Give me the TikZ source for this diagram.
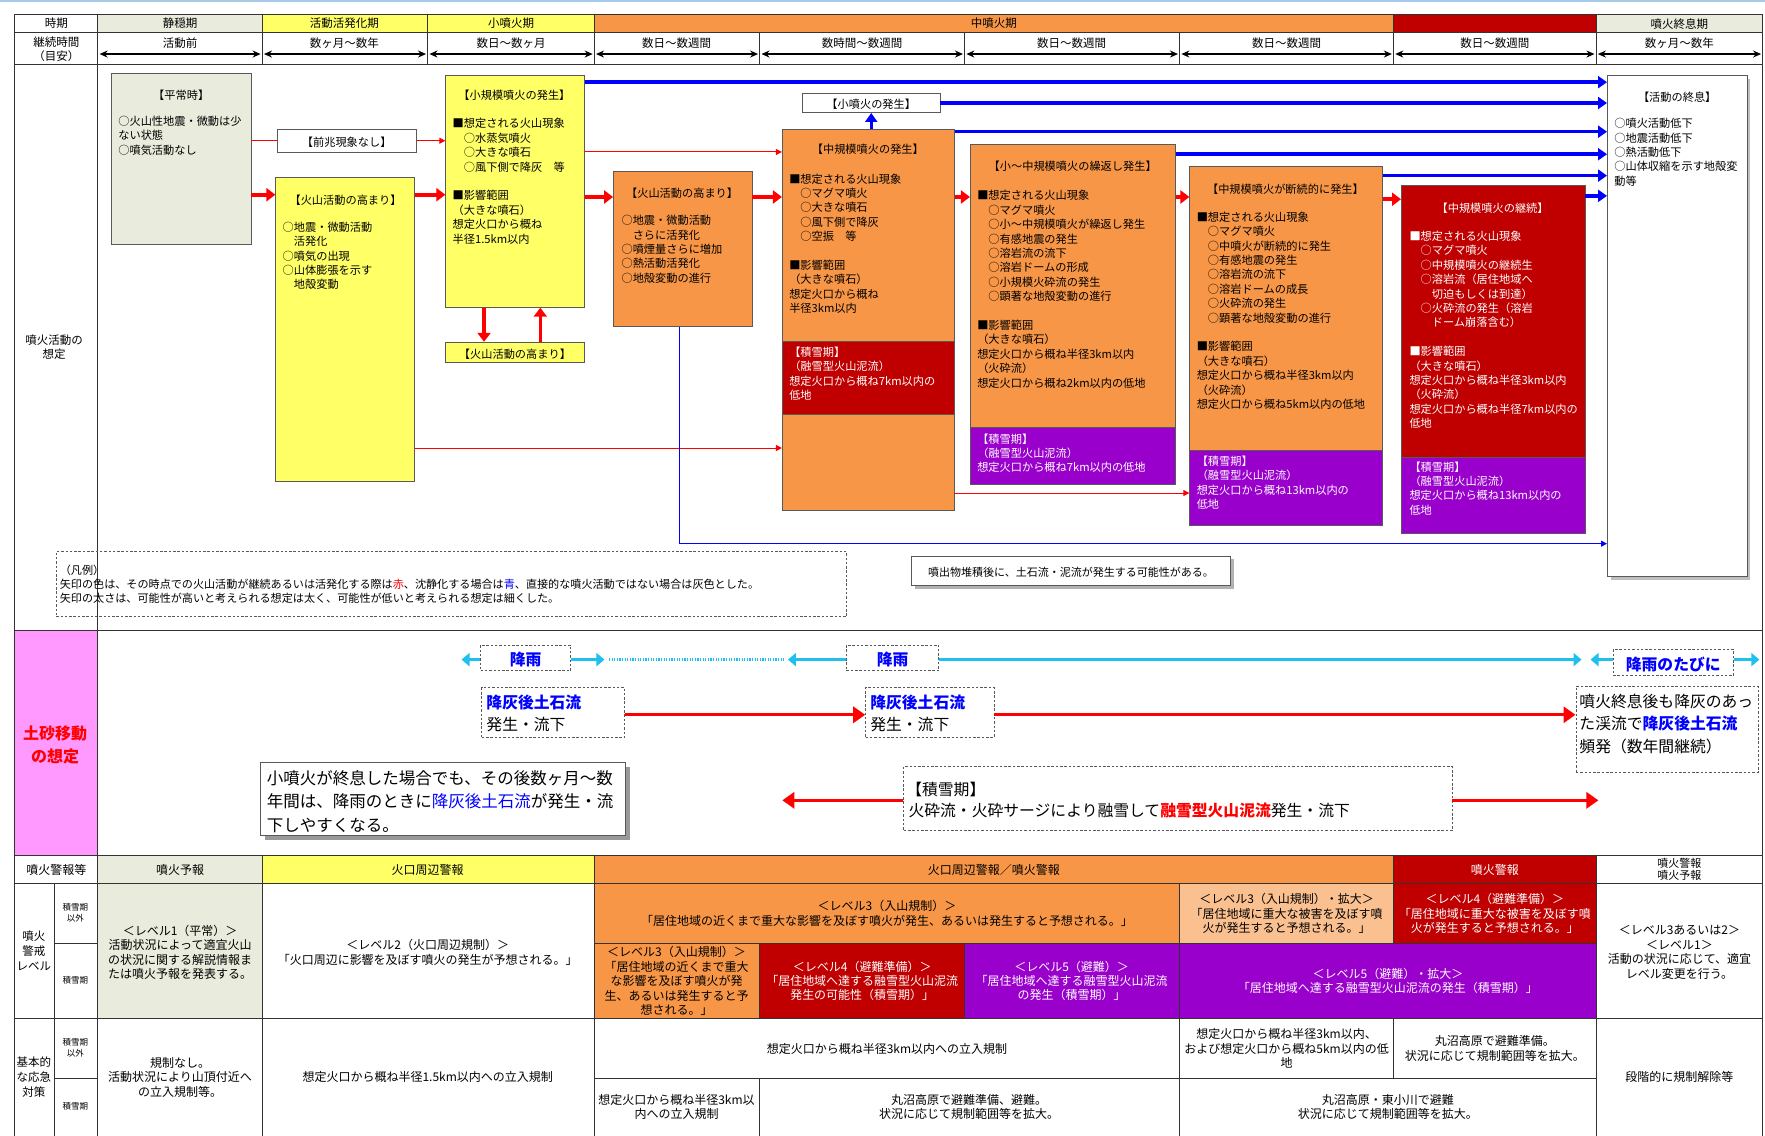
\documentclass[tikz,border=0pt]{standalone}
\usepackage{fontspec}
\setmainfont{Noto Sans CJK JP}
\usetikzlibrary{arrows.meta,fit}
\definecolor{calm}{HTML}{E9ECDC}
\definecolor{ylw}{HTML}{FFFF66}
\definecolor{org}{HTML}{F79646}
\definecolor{dred}{HTML}{C00000}
\definecolor{purp}{HTML}{9900CC}
\definecolor{lorg}{HTML}{FAC090}
\definecolor{pinkc}{HTML}{FF99FF}
\definecolor{cyanc}{HTML}{1FC0F0}
\definecolor{redc}{HTML}{FF0000}
\definecolor{bluec}{HTML}{0000FF}
\definecolor{topline}{HTML}{A6CBEA}
\newcommand\FsBox{\fontsize{11.2pt}{14.4pt}\selectfont}
\newcommand\FsTab{\fontsize{12pt}{14.4pt}\selectfont}
\newcommand\FsHead{\fontsize{11.5pt}{14pt}\selectfont}
\newcommand\FsLeg{\fontsize{11.1pt}{14pt}\selectfont}
\newcommand\FsBig{\fontsize{15.8pt}{22.5pt}\selectfont}
\newcommand\FsNote{\fontsize{16.5pt}{23.6pt}\selectfont}
\newcommand\FsTiny{\fontsize{8.5pt}{10.5pt}\selectfont}
\tikzset{
  rl/.style={draw=black!80, line width=0.9pt},
  fbox/.style={draw=black!65, line width=0.8pt, inner sep=0pt},
  dbox/.style={draw=black!65, line width=0.8pt, dash pattern=on 2.5pt off 1.8pt, inner sep=0pt},
  bt/.style={anchor=north west, inner sep=0pt, align=left, font=\FsBox},
  ct/.style={inner sep=0pt, align=center, font=\FsBox},
  hd/.style={inner sep=0pt, align=center, font=\FsHead},
  tc/.style={inner sep=0pt, align=center, font=\FsTab},
  lg/.style={anchor=north west, inner sep=0pt, align=left, font=\FsLeg},
  bg/.style={anchor=west, inner sep=0pt, font=\FsBig},
  raintxt/.style={inner sep=0pt, text=bluec, font=\FsBig\bfseries},
  redfat/.style={draw=redc, line width=4pt, -{Triangle[length=9pt,width=13pt]}},
  redline/.style={draw=redc, line width=1pt},
  redthin/.style={draw=redc, line width=1pt, -{Triangle[length=6pt,width=6pt]}},
  bluefat/.style={draw=bluec, line width=3.5pt, -{Triangle[length=9pt,width=12pt]}},
  bluethin/.style={draw=bluec, line width=1pt, -{Triangle[length=6pt,width=6pt]}},
  dur/.style={draw=black, line width=1.8pt, {Stealth[length=8pt,width=7pt]}-{Stealth[length=8pt,width=7pt]}},
  rainarr/.style={draw=cyanc, line width=3pt, -{Triangle[length=8pt,width=13pt]}},
  flowarr/.style={draw=redc, line width=3.4pt, -{Triangle[length=12pt,width=16pt]}},
}
\begin{document}
\begin{tikzpicture}[x=1.1257pt, y=-1.1257pt]
\useasboundingbox (0,0) rectangle (1568,1009);
\fill[white] (0,0) rectangle (1568,1009);
\draw[topline, line width=2.2pt] (0,1) -- (1568,1);

% ---------- header fills ----------
\fill[calm] (87,13) rectangle (233,29);
\fill[ylw] (233,13) rectangle (528,29);
\fill[org] (528,13) rectangle (1238,29);
\fill[dred] (1238,13) rectangle (1418,29);
\fill[calm] (1418,13) rectangle (1566,29);

% ---------- lower table fills ----------
\fill[pinkc] (13,560) rectangle (87,760);
\fill[calm] (87,760) rectangle (233,785);
\fill[ylw] (233,760) rectangle (528,785);
\fill[org] (528,760) rectangle (1238,785);
\fill[dred] (1238,760) rectangle (1418,785);
\fill[calm] (87,785) rectangle (233,905);
\fill[org] (528,785) rectangle (1048,838);
\fill[lorg] (1048,785) rectangle (1238,838);
\fill[dred] (1238,785) rectangle (1418,838);
\fill[org] (528,838) rectangle (675,905);
\fill[dred] (675,838) rectangle (857,905);
\fill[purp] (857,838) rectangle (1048,905);
\fill[purp] (1048,838) rectangle (1418,905);

% ---------- table rules ----------
\draw[rl] (13,1009) -- (13,13) -- (1566,13) -- (1566,1009);
\foreach \y in {29,57,560,760,785,905} \draw[rl] (13,\y) -- (1566,\y);
\foreach \y in {838,958} {\draw[rl] (48,\y) -- (87,\y); \draw[rl] (528,\y) -- (1418,\y);}
\draw[rl] (87,13) -- (87,1009);
\draw[rl] (48,785) -- (48,1009);
\foreach \x in {233,528,1418} {\draw[rl] (\x,13) -- (\x,57); \draw[rl] (\x,760) -- (\x,1009);}
\draw[rl] (380,13) -- (380,57);
\draw[rl] (1238,13) -- (1238,57);
\draw[rl] (1238,760) -- (1238,838);
\draw[rl] (1238,905) -- (1238,958);
\foreach \x in {675,857,1048} \draw[rl] (\x,29) -- (\x,57);
\draw[rl] (675,838) -- (675,905);
\draw[rl] (857,838) -- (857,905);
\draw[rl] (675,958) -- (675,1009);
\draw[rl] (1048,785) -- (1048,1009);

% ---------- header texts ----------
\node[hd] (p0) at (50,21) {時期};
\node[hd] (p1) at (160,21) {静穏期};
\node[hd] (p2) at (306,21) {活動活発化期};
\node[hd] (p3) at (454,21) {小噴火期};
\node[hd] (p4) at (883,21) {中噴火期};
\node[hd] (p5) at (1492,21) {噴火終息期};
\node[hd] (d0) at (50,43.5) {継続時間\\（目安）};
\foreach \x/\t [count=\i] in {160/活動前,306/数ヶ月〜数年,454/数日〜数ヶ月,601/数日〜数週間,766/数時間〜数週間,952/数日〜数週間,1143/数日〜数週間,1328/数日〜数週間,1492/数ヶ月〜数年}
  \node[hd] (d\i) at (\x,38) {\t};
\foreach \a/\b in {87/233,233/380,380/528,528/675,675/857,857/1048,1048/1238,1238/1418,1418/1566}
  \draw[dur] (\a+1.5,48) -- (\b-1.5,48);

% ---------- eruption scenario ----------
\node[hd] (s1) at (48,308) {噴火活動の\\想定};

\node[fbox, fill=calm, fit={(99,65) (223,217)}] (heijo) {};
\node[ct] (heijoT) at (161,85) {【平常時】};
\node[bt] (heijoB) at (105,103) {○火山性地震・微動は少\\ない状態\\○噴気活動なし};

\node[fbox, fill=white, fit={(246,115) (370,135)}] (zencho) {};
\node[ct] (zenchoT) at ([yshift=-1.5pt]zencho.center) {【前兆現象なし】};

\node[fbox, fill=ylw, fit={(245,158) (368,428)}] (kouyou) {};
\node[ct] (kouyouT) at (307,178) {【火山活動の高まり】};
\node[bt] (kouyouB) at (251,197) {○地震・微動活動\\　活発化\\○噴気の出現\\○山体膨張を示す\\　地殻変動};

\node[fbox, fill=ylw, fit={(396,67) (519,273)}] (shokibo) {};
\node[ct] (shokiboT) at (457,85) {【小規模噴火の発生】};
\node[bt] (shokiboB) at (402,105) {■想定される火山現象\\　○水蒸気噴火\\　○大きな噴石\\　○風下側で降灰　等\\[14.4pt]■影響範囲\\（大きな噴石）\\想定火口から概ね\\半径1.5km以内};

\node[fbox, fill=ylw, fit={(396,304) (519,322)}] (kouyouS) {};
\node[ct] (kouyouST) at ([yshift=-1.5pt]kouyouS.center) {【火山活動の高まり】};

\node[fbox, fill=org, fit={(545,152) (668,290)}] (kouyou2) {};
\node[ct] (kouyou2T) at (606,172) {【火山活動の高まり】};
\node[bt] (kouyou2B) at (552,191) {○地震・微動活動\\　さらに活発化\\○噴煙量さらに増加\\○熱活動活発化\\○地殻変動の進行};

\node[fbox, fill=org, fit={(695,115) (848,453)}] (chuki) {};
\node[fbox, fill=dred, fit={(695,303) (848,368)}] (chukiS) {};
\node[ct] (chukiT) at (771,133) {【中規模噴火の発生】};
\node[bt] (chukiB) at (701,154) {■想定される火山現象\\　○マグマ噴火\\　○大きな噴石\\　○風下側で降灰\\　○空振　等\\[14.4pt]■影響範囲\\（大きな噴石）\\想定火口から概ね\\半径3km以内};
\node[bt, text=white] (chukiSB) at (701,308) {【積雪期】\\（融雪型火山泥流）\\想定火口から概ね7km以内の\\低地};

\node[fbox, fill=white, fit={(713,83) (835,100)}] (shofun) {};
\node[ct] (shofunT) at ([yshift=-1.5pt]shofun.center) {【小噴火の発生】};

\node[fbox, fill=org, fit={(862,128) (1044,380)}] (kuri) {};
\node[fbox, fill=purp, fit={(862,380) (1044,430)}] (kuriS) {};
\node[ct] (kuriT) at (953,148) {【小〜中規模噴火の繰返し発生】};
\node[bt] (kuriB) at (868,169) {■想定される火山現象\\　○マグマ噴火\\　○小〜中規模噴火が繰返し発生\\　○有感地震の発生\\　○溶岩流の流下\\　○溶岩ドームの形成\\　○小規模火砕流の発生\\　○顕著な地殻変動の進行\\[14.4pt]■影響範囲\\（大きな噴石）\\想定火口から概ね半径3km以内\\（火砕流）\\想定火口から概ね2km以内の低地};
\node[bt, text=white] (kuriSB) at (868,385) {【積雪期】\\（融雪型火山泥流）\\想定火口から概ね7km以内の低地};

\node[fbox, fill=org, fit={(1057,148) (1228,400)}] (danzoku) {};
\node[fbox, fill=purp, fit={(1057,400) (1228,467)}] (danzokuS) {};
\node[ct] (danzokuT) at (1142,168) {【中規模噴火が断続的に発生】};
\node[bt] (danzokuB) at (1063,188) {■想定される火山現象\\　○マグマ噴火\\　○中噴火が断続的に発生\\　○有感地震の発生\\　○溶岩流の流下\\　○溶岩ドームの成長\\　○火砕流の発生\\　○顕著な地殻変動の進行\\[14.4pt]■影響範囲\\（大きな噴石）\\想定火口から概ね半径3km以内\\（火砕流）\\想定火口から概ね5km以内の低地};
\node[bt, text=white] (danzokuSB) at (1063,405) {【積雪期】\\（融雪型火山泥流）\\想定火口から概ね13km以内の\\低地};

\node[fbox, fill=dred, fit={(1245,165) (1408,406)}] (keizoku) {};
\node[fbox, fill=purp, fit={(1245,406) (1408,474)}] (keizokuS) {};
\node[ct, text=white] (keizokuT) at (1326,185) {【中規模噴火の継続】};
\node[bt, text=white] (keizokuB) at (1252,205) {■想定される火山現象\\　○マグマ噴火\\　○中規模噴火の継続生\\　○溶岩流（居住地域へ\\　　切迫もしくは到達）\\　○火砕流の発生（溶岩\\　　ドーム崩落含む）\\[14.4pt]■影響範囲\\（大きな噴石）\\想定火口から概ね半径3km以内\\（火砕流）\\想定火口から概ね半径7km以内の\\低地};
\node[bt, text=white] (keizokuSB) at (1252,410) {【積雪期】\\（融雪型火山泥流）\\想定火口から概ね13km以内の\\低地};

\fill[black!25] (1431,70) rectangle (1555,515);
\node[fbox, fill=white, fit={(1428,67) (1552,512)}] (shuusoku) {};
\node[ct] (shuusokuT) at (1490,86) {【活動の終息】};
\node[bt] (shuusokuB) at (1434,105) {○噴火活動低下\\○地震活動低下\\○熱活動低下\\○山体収縮を示す地殻変\\動等};

% connectors: activity rising (red) / calming (blue)
\draw[redline] (heijo.east |- zencho.west) -- (zencho.west);
\draw[redthin] (zencho.east) -- (shokibo.west |- zencho.east);
\draw[redfat] (heijo.east |- 0,173) -- (kouyou.west |- 0,173);
\draw[redfat] (kouyou.east |- 0,173) -- (shokibo.west |- 0,173);
\draw[redfat] (shokibo.east |- 0,175) -- (kouyou2.west |- 0,175);
\draw[redfat] (kouyou2.east |- 0,175) -- (chuki.west |- 0,175);
\draw[redfat] (chuki.east |- 0,175) -- (kuri.west |- 0,175);
\draw[redfat] (kuri.east |- 0,175) -- (danzoku.west |- 0,175);
\draw[redfat] (danzoku.east |- 0,177) -- (keizoku.west |- 0,177);
\draw[redfat, line width=3.5pt] (shokibo.south -| 430,0) -- (kouyouS.north -| 430,0);
\draw[redfat, line width=3.5pt] (kouyouS.north -| 480,0) -- (shokibo.south -| 480,0);
\draw[redthin] (shokibo.east |- 0,135) -- (chuki.west |- 0,135);
\draw[redthin] (kouyou.east |- 0,398) -- (chuki.west |- 0,398);
\draw[redthin] (chuki.east |- 0,438) -- (danzokuS.west |- 0,438);

\draw[bluefat] (shokibo.east |- 0,73) -- (shuusoku.west |- 0,73);
\draw[bluefat] (shofun.east) -- (shuusoku.west |- shofun.east);
\draw[bluefat] (chuki.east |- 0,117) -- (shuusoku.west |- 0,117);
\draw[bluefat] (kuri.east |- 0,137) -- (shuusoku.west |- 0,137);
\draw[bluefat] (danzoku.east |- 0,156) -- (shuusoku.west |- 0,156);
\draw[bluefat] (keizoku.east |- 0,174) -- (shuusoku.west |- 0,174);
\draw[bluefat] (shofun.south |- chuki.north) -- (shofun.south);
\draw[bluethin] (kouyou2.south -| 604,0) -- (604,483) -- (shuusoku.west |- 0,483);

% legend and note
\node[dbox, fit={(50,490) (752,548)}] (legend) {};
\node[lg] (legendT) at (53,502) {（凡例）\\矢印の色は、その時点での火山活動が継続あるいは活発化する際は\textcolor{redc}{赤}、沈静化する場合は\textcolor{bluec}{青}、直接的な噴火活動ではない場合は灰色とした。\\矢印の太さは、可能性が高いと考えられる想定は太く、可能性が低いと考えられる想定は細くした。};
\fill[black!30] (813,497) rectangle (1096,523);
\node[fbox, fill=white, fit={(810,494) (1093,520)}] (note1) {};
\node[inner sep=0pt, font=\fontsize{11pt}{13pt}\selectfont] (note1T) at ([yshift=-1.5pt]note1.center) {噴出物堆積後に、土石流・泥流が発生する可能性がある。};

% ---------- sediment movement ----------
\node[align=center, inner sep=0pt, text=redc, font=\fontsize{16pt}{22.5pt}\selectfont\bfseries] (s2) at (49,662) {土砂移動\\の想定};

\node[dbox, fill=white, fit={(427,573) (507,596)}] (rain1) {};
\node[raintxt] (rain1T) at ([yshift=-2pt]rain1.center) {降雨};
\node[dbox, fill=white, fit={(752,573) (834,596)}] (rain2) {};
\node[raintxt] (rain2T) at ([yshift=-2pt]rain2.center) {降雨};
\node[dbox, fill=white, fit={(1433,577) (1540,600)}] (rain3) {};
\node[raintxt] (rain3T) at ([yshift=-2pt]rain3.center) {降雨のたびに};
\coordinate (cA) at (410,586);
\coordinate (cB) at (537,586);
\coordinate (cB2) at (541,586);
\coordinate (cC2) at (697,586);
\coordinate (cC) at (700,586);
\coordinate (cD) at (1405,586);
\coordinate (cE) at (1413,586);
\coordinate (cF) at (1563,586);
\draw[rainarr] (rain1.west |- cA) -- (cA);
\draw[rainarr] (rain1.east |- cB) -- (cB);
\draw[cyanc, line width=2.6pt, dash pattern=on 1.3pt off 1.3pt] (cB2) -- (cC2);
\draw[rainarr] (rain2.west |- cC) -- (cC);
\draw[rainarr] (rain2.east |- cD) -- (cD);
\draw[rainarr] (rain3.west |- cE) -- (cE);
\draw[rainarr] (rain3.east |- cF) -- (cF);

\node[dbox, fit={(428,611) (555,655)}] (deb1) {};
\node[bg, text=bluec, font=\FsBig\bfseries] (deb1a) at (432,624) {降灰後土石流};
\node[bg] (deb1b) at (432,644) {発生・流下};
\node[dbox, fit={(769,611) (883,655)}] (deb2) {};
\node[bg, text=bluec, font=\FsBig\bfseries] (deb2a) at (773,624) {降灰後土石流};
\node[bg] (deb2b) at (773,644) {発生・流下};
\node[dbox, fit={(1400,610) (1562,686)}] (deb3) {};
\node[bg] (deb3a) at (1403,623) {噴火終息後も降灰のあっ};
\node[bg] (deb3b) at (1403,643) {た渓流で\textcolor{bluec}{\bfseries 降灰後土石流}};
\node[bg] (deb3c) at (1403,663) {頻発（数年間継続）};
\draw[flowarr] (deb1.east |- 0,635) -- (deb2.west |- 0,635);
\draw[flowarr] (deb2.east |- 0,635) -- (deb3.west |- 0,635);

\node[dbox, fit={(803,681) (1290,738)}] (snow) {};
\node[bg] (snowa) at (805,701) {【積雪期】};
\node[bg] (snowb) at (807,720) {火砕流・火砕サージにより融雪して\textcolor{redc}{\bfseries 融雪型火山泥流}発生・流下};
\coordinate (sL) at (695,711);
\coordinate (sR) at (1420,711);
\draw[flowarr] (snow.west |- sL) -- (sL);
\draw[flowarr] (snow.east |- sR) -- (sR);

\fill[black!40] (235,681) rectangle (560,746);
\node[fbox, fill=white, fit={(231,677) (556,742)}] (note2) {};
\node[anchor=north west, inner sep=0pt, align=left, font=\FsNote] (note2t) at (237,684) {小噴火が終息した場合でも、その後数ヶ月〜数\\年間は、降雨のときに\textcolor{bluec}{降灰後土石流}が発生・流\\下しやすくなる。};

% ---------- alert levels and responses ----------
\node[tc] (w0) at (50,772.5) {噴火警報等};
\node[tc] (w1) at (160,772.5) {噴火予報};
\node[tc] (w2) at (380,772.5) {火口周辺警報};
\node[tc] (w3) at (883,772.5) {火口周辺警報／噴火警報};
\node[tc, text=white] (w4) at (1328,772.5) {噴火警報};
\node[hd, font=\fontsize{11pt}{12.5pt}\selectfont] (w5) at (1492,772.5) {噴火警報\\噴火予報};

\node[tc, font=\fontsize{11.5pt}{15pt}\selectfont] (lv0) at (30,845) {噴火\\警戒\\レベル};
\node[tc, font=\fontsize{11.5pt}{15pt}\selectfont] (rs0) at (30,957) {基本的\\な応急\\対策};
\node[tc, font=\FsTiny] (lvA) at (67,811) {積雪期\\以外};
\node[tc, font=\FsTiny] (lvB) at (67,871) {積雪期};
\node[tc, font=\FsTiny] (rsA) at (67,931) {積雪期\\以外};
\node[tc, font=\FsTiny] (rsB) at (67,983) {積雪期};

\node[tc] (lv1) at (160,846) {＜レベル1（平常）＞\\活動状況によって適宜火山\\の状況に関する解説情報ま\\たは噴火予報を発表する。};
\node[tc] (lv2) at (380,846) {＜レベル2（火口周辺規制）＞\\「火口周辺に影響を及ぼす噴火の発生が予想される。」};
\node[tc] (lv3) at (788,811.5) {＜レベル3（入山規制）＞\\「居住地域の近くまで重大な影響を及ぼす噴火が発生、あるいは発生すると予想される。」};
\node[tc] (lv3x) at (1143,811.5) {＜レベル3（入山規制）・拡大＞\\「居住地域に重大な被害を及ぼす噴\\火が発生すると予想される。」};
\node[tc, text=white] (lv4) at (1328,811.5) {＜レベル4（避難準備）＞\\「居住地域に重大な被害を及ぼす噴\\火が発生すると予想される。」};
\node[tc] (lvE) at (1492,846) {＜レベル3あるいは2＞\\＜レベル1＞\\活動の状況に応じて、適宜\\レベル変更を行う。};
\node[tc] (lv3s) at (601,871.5) {＜レベル3（入山規制）＞\\「居住地域の近くまで重大\\な影響を及ぼす噴火が発\\生、あるいは発生すると予\\想される。」};
\node[tc, text=white] (lv4s) at (766,871.5) {＜レベル4（避難準備）＞\\「居住地域へ達する融雪型火山泥流\\発生の可能性（積雪期）」};
\node[tc, text=white] (lv5s) at (952,871.5) {＜レベル5（避難）＞\\「居住地域へ達する融雪型火山泥流\\の発生（積雪期）」};
\node[tc, text=white] (lv5x) at (1233,871.5) {＜レベル5（避難）・拡大＞\\「居住地域へ達する融雪型火山泥流の発生（積雪期）」};

\node[tc] (rs1) at (160,957) {規制なし。\\活動状況により山頂付近へ\\の立入規制等。};
\node[tc] (rs2) at (380,957) {想定火口から概ね半径1.5km以内への立入規制};
\node[tc] (rs3) at (788,931.5) {想定火口から概ね半径3km以内への立入規制};
\node[tc] (rs3x) at (1143,931.5) {想定火口から概ね半径3km以内、\\および想定火口から概ね5km以内の低\\地};
\node[tc] (rs4) at (1328,931.5) {丸沼高原で避難準備。\\状況に応じて規制範囲等を拡大。};
\node[tc] (rsE) at (1492,957) {段階的に規制解除等};
\node[tc] (rs3s) at (601,983.5) {想定火口から概ね半径3km以\\内への立入規制};
\node[tc] (rs45s) at (861,983.5) {丸沼高原で避難準備、避難。\\状況に応じて規制範囲等を拡大。};
\node[tc] (rs5x) at (1233,983.5) {丸沼高原・東小川で避難\\状況に応じて規制範囲等を拡大。};
\end{tikzpicture}
\end{document}
